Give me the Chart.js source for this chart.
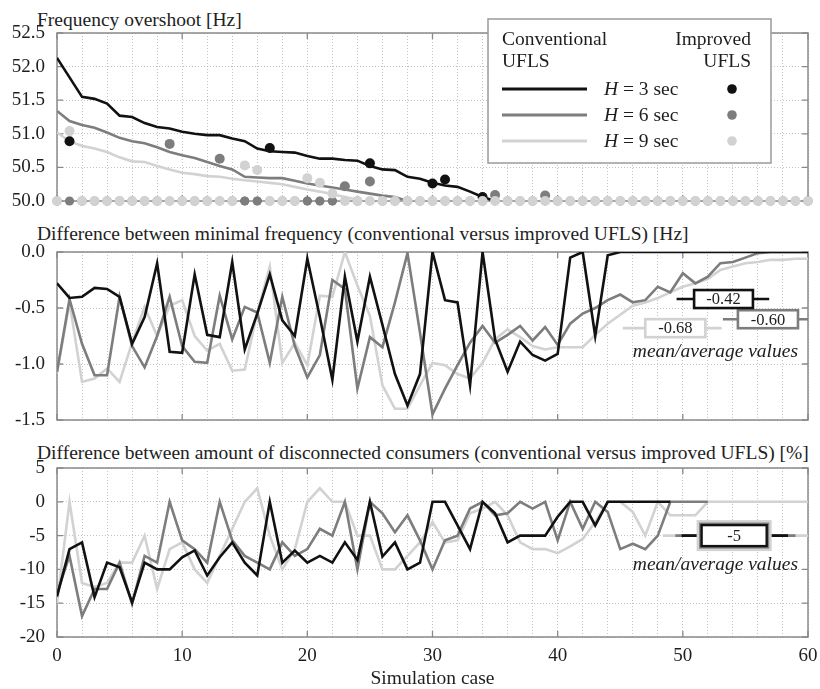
<!DOCTYPE html>
<html>
<head>
<meta charset="utf-8">
<script src="https://cdn.jsdelivr.net/npm/chart.js@4.4.1/dist/chart.umd.min.js"></script>
<style>
html,body{margin:0;padding:0;background:#fff;}
body{width:820px;height:689px;position:relative;overflow:hidden;}
canvas{position:absolute;left:0;}
.ttl{position:absolute;left:37px;font-family:"Liberation Serif","Times New Roman",serif;font-size:19.5px;line-height:1;color:#222;white-space:nowrap;}
</style>
</head>
<body>
<div class="ttl" style="top:9.7px">Frequency overshoot [Hz]</div>
<div class="ttl" style="top:223.7px">Difference between minimal frequency (conventional versus improved UFLS) [Hz]</div>
<div class="ttl" style="top:443px">Difference between amount of disconnected consumers (conventional versus improved UFLS) [%]</div>
<canvas id="c1" width="820" height="215" style="top:0"></canvas>
<canvas id="c2" width="820" height="215" style="top:215px"></canvas>
<canvas id="c3" width="820" height="259" style="top:430px"></canvas>
<script>
// ---------------- DATA ----------------
const simulationCases = [0,1,2,3,4,5,6,7,8,9,10,11,12,13,14,15,16,17,18,19,20,21,22,23,24,25,26,27,28,29,30,
  31,32,33,34,35,36,37,38,39,40,41,42,43,44,45,46,47,48,49,50,51,52,53,54,55,56,57,58,59,60];
const seriesNames = ['H = 3 sec', 'H = 6 sec', 'H = 9 sec'];

// Panel 1: frequency overshoot [Hz], conventional UFLS (lines)
const overshootConvH3 = [52.13,51.84,51.55,51.52,51.45,51.27,51.25,51.16,51.10,51.08,51.03,51.00,50.98,50.98,50.93,50.89,50.78,50.74,50.73,50.72,
  50.67,50.63,50.63,50.61,50.60,50.52,50.47,50.46,50.36,50.33,50.27,50.23,50.21,50.14,50.06,50.00];
const overshootConvH6 = [51.34,51.19,51.13,51.09,51.02,50.94,50.89,50.86,50.80,50.73,50.68,50.64,50.58,50.52,50.47,50.36,50.35,50.34,50.34,50.30,
  50.26,50.23,50.20,50.17,50.14,50.11,50.08,50.06,50.00];
const overshootConvH9 = [51.02,50.89,50.82,50.78,50.73,50.65,50.59,50.58,50.52,50.47,50.42,50.40,50.37,50.36,50.33,50.31,50.29,50.27,50.25,50.21,
  50.17,50.14,50.10,50.06,50.02];
// Panel 1: improved UFLS (dots)
const overshootImpH3 = [50,50.89,50,50,50,50,50,50,50,50,50,50,50,50,50,50,50,50.79,50,50,50,50,50,50,50,50.56,50,50,50,50,
  50.26,50.32,50,50,50.06,50,50,50,50,50,50,50,50,50,50,50,50,50,50,50,50,50,50,50,50,50,50,50,50,50,50];
const overshootImpH6 = [50,50,50,50,50,50,50,50,50,50.85,50,50,50,50.63,50,50,50,50,50,50,50,50,50,50.22,50,50.29,50,50,50,50,
  50,50,50,50,50,50.09,50,50,50,50.08,50,50,50,50,50,50,50,50,50,50,50,50,50,50,50,50,50,50,50,50,50];
const overshootImpH9 = [50,51.04,50,50,50,50,50,50,50,50,50,50,50,50,50,50.53,50.46,50,50,50,50.34,50.27,50.11,50,50,50,50,50,50,50,
  50,50,50,50,50,50,50,50,50,50,50,50,50,50,50,50,50,50,50,50,50,50,50,50,50,50,50,50,50,50,50];

// Panel 2: difference of minimal frequency [Hz]
const minFreqDiffH3 = [-0.28,-0.41,-0.40,-0.32,-0.33,-0.40,-0.82,-0.58,-0.10,-0.89,-0.90,-0.20,-0.74,-0.76,-0.09,-0.87,-0.55,-0.20,-0.61,-0.75,
  -0.06,-0.58,-1.14,-0.22,-0.80,-0.22,-0.65,-1.09,-1.37,-1.09,0.00,-0.43,-0.45,-1.19,0.00,-0.78,-1.07,-0.80,-0.92,-0.97,
  -0.91,-0.05,0.00,-0.75,-0.03,0,0,0,0,0,0,0,0,0,0,0,0,0,0,0,0];
const minFreqDiffH6 = [-1.07,-0.42,-0.82,-1.10,-1.10,-0.40,-0.84,-1.03,-0.75,-0.40,-0.84,-0.98,-0.99,-0.39,-0.78,-0.49,-0.54,-0.99,-0.40,-0.84,
  -1.12,-0.92,-0.25,-0.33,-1.22,-0.76,-0.85,-0.45,-0.01,-0.72,-1.45,-1.22,-1.01,-0.81,-0.66,-0.81,-0.74,-0.66,-0.79,-0.67,
  -0.83,-0.64,-0.55,-0.50,-0.43,-0.38,-0.45,-0.43,-0.31,-0.36,-0.19,-0.28,-0.22,-0.10,-0.09,-0.05,-0.01,0,0,0,0];
const minFreqDiffH9 = [-1.08,-0.45,-1.16,-1.13,-1.04,-1.16,-0.81,-0.49,-0.75,-0.48,-0.43,-0.75,-0.88,-0.82,-1.06,-1.05,-0.54,-0.13,-0.99,-0.81,
  -1.01,-0.39,-0.40,0.00,-0.30,-0.57,-1.19,-1.40,-1.40,-1.19,-0.99,-1.01,-1.09,-1.13,-0.99,-0.78,-0.69,-0.76,-0.84,-0.87,
  -0.85,-0.85,-0.85,-0.74,-0.64,-0.56,-0.48,-0.45,-0.41,-0.36,-0.31,-0.28,-0.24,-0.16,-0.13,-0.10,-0.09,-0.07,-0.07,-0.06,-0.06];
const meanFreqDiff = [-0.42, -0.60, -0.68];
const meanFreqLabels = ['-0.42', '-0.60', '-0.68'];

// Panel 3: difference of disconnected consumers [%]
const consumersDiffH3 = [-14,-7,-6,-14.1,-9,-9.7,-14.9,-9,-10,-10,-8.2,-7.2,-10.9,-8.2,-6,-9,-10.9,0,-9,-7.2,
  -9,-8,-9,-6,-8.6,0,-8.1,-6,-10,-9,0,0,-3.5,-7,0,-1.7,-6,-5,-5,-5,
  -2.2,0,0,-3.5,0,0,0,0,0,0];
const consumersDiffH6 = [-13.5,-8,-16.9,-12.9,-12.9,-9,-15.1,-8,-9,0,-5.7,-7,-9,0,-5.7,-8,-9,-10,-6,-8,
  -7,-4,-5,0,-10,0,-1.7,-4.5,-2,-5.7,-10,-5.7,-5,-1,0,-2,-1.7,0,-1,0,
  -5.7,0,-4,0,-1.5,-7,-6.2,-7,-5,0,0,0,0];
const consumersDiffH9 = [-15,0,-12,-12.6,-12,-9,-9,-5,-12.9,-7,-6,-10,-12,-8,-4,0,2,-5,-10,-7,
  0,2,0,0,-5,-5,-10,-10,-8,-6,-3,-6,-5.7,-1.7,-1,0,-2,-6,-7,-7,
  -7.6,-6.6,-5.5,-3,0,0,-1.5,-5,0,-2,-2,-2,0,0,0,0,0,0,0,0,0];
const meanConsumerDiff = [-5, -5, -5];
const meanConsumerLabel = '-5';

const xTickLabels = [0,10,20,30,40,50,60];

// ---------------- STYLE ----------------
const FONT = '"Liberation Serif", "Times New Roman", serif';
const colors = ['#111111', '#7d7d7d', '#d2d2d2'];
const TXT = '#1e1e1e';
Chart.defaults.font.family = FONT;

const framePlugin = {
  id: 'frame',
  beforeDatasetsDraw(chart) {
    const {ctx, chartArea: a, scales: {x, y}} = chart;
    ctx.save();
    ctx.strokeStyle = '#8a8a8a';
    ctx.lineWidth = 1.5;
    ctx.strokeRect(a.left, a.top, a.right - a.left, a.bottom - a.top);
    ctx.lineWidth = 1.3;
    ctx.beginPath();
    x.ticks.forEach(t => {
      if (xTickLabels.includes(t.value)) {
        const px = x.getPixelForValue(t.value);
        ctx.moveTo(px, a.top); ctx.lineTo(px, a.top + 6);
        ctx.moveTo(px, a.bottom); ctx.lineTo(px, a.bottom - 6);
      }
    });
    y.ticks.forEach(t => {
      const py = y.getPixelForValue(t.value);
      ctx.moveTo(a.left, py); ctx.lineTo(a.left + 6, py);
      ctx.moveTo(a.right, py); ctx.lineTo(a.right - 6, py);
    });
    ctx.stroke();
    ctx.restore();
  }
};

function xScale(showLabels) {
  return {
    type: 'linear', min: 0, max: 60,
    ticks: {
      stepSize: 2, autoSkip: false, maxRotation: 0, display: showLabels,
      padding: 8, color: TXT, font: {size: 19, family: FONT},
      callback: v => xTickLabels.includes(v) ? String(v) : ''
    },
    grid: {color: '#c2c2c2', lineWidth: 1, drawTicks: false},
    border: {display: false, dash: [1, 2]},
    title: showLabels ? {display: true, text: 'Simulation case', color: TXT, font: {size: 19.5, family: FONT, lineHeight: 1.05}, padding: {top: 0, bottom: 0}} : {display: false},
    afterFit: s => { s.height = showLabels ? 52 : 0; s.paddingLeft = 0; s.paddingRight = 0; }
  };
}
function yScale(min, max, step, digits) {
  return {
    min, max,
    ticks: {stepSize: step, padding: 12, color: TXT, font: {size: 19, family: FONT},
      callback: v => Number(v).toFixed(digits)},
    grid: {color: '#c2c2c2', lineWidth: 1, drawTicks: false},
    border: {display: false, dash: [1, 2]},
    afterFit: s => { s.width = 57; s.paddingTop = 0; s.paddingBottom = 0; }
  };
}
const baseOpts = {responsive: false, animation: false, events: [],
  plugins: {legend: {display: false}, tooltip: {enabled: false}}};

function lineDS(data, i, order) {
  return {data, borderColor: colors[i], borderWidth: 2.6, pointRadius: 0, tension: 0, fill: false, order};
}
// dots lying under the lighter ones on the 50.0 Hz base line are kept a touch smaller so their edges do not bleed through
function dotDS(data, i, order, baseRadius) {
  return {data, showLine: false, pointRadius: c => (c.raw === 50 ? baseRadius : 5), pointBackgroundColor: colors[i],
    pointBorderWidth: 0, borderColor: colors[i], clip: false, order};
}

// ---------- legend for panel 1 ----------
const legendPlugin = {
  id: 'ufLegend',
  afterDraw(chart) {
    const ctx = chart.ctx;
    ctx.save();
    ctx.fillStyle = '#ffffff';
    ctx.fillRect(488, 19, 283, 144);
    ctx.strokeStyle = '#9a9a9a'; ctx.lineWidth = 1.5;
    ctx.strokeRect(488, 19, 283, 144);
    ctx.fillStyle = TXT;
    ctx.font = '19.5px ' + FONT;
    ctx.textBaseline = 'alphabetic';
    ctx.textAlign = 'left';
    ctx.fillText('Conventional', 502, 45);
    ctx.fillText('UFLS', 502, 67);
    ctx.textAlign = 'right';
    ctx.fillText('Improved', 751, 45);
    ctx.fillText('UFLS', 751, 67);
    const rows = [89, 115, 141];
    rows.forEach((ry, i) => {
      ctx.strokeStyle = colors[i]; ctx.lineWidth = 3;
      ctx.beginPath(); ctx.moveTo(502, ry); ctx.lineTo(587, ry); ctx.stroke();
      ctx.fillStyle = TXT; ctx.textAlign = 'left'; ctx.textBaseline = 'middle';
      ctx.font = 'italic 19.5px ' + FONT;
      ctx.fillText('H', 604, ry + 1);
      const hw = ctx.measureText('H').width;
      ctx.font = '19.5px ' + FONT;
      ctx.fillText(seriesNames[i].slice(1), 604 + hw, ry + 1);
      ctx.fillStyle = colors[i];
      ctx.beginPath(); ctx.arc(732, ry, 4.8, 0, Math.PI * 2); ctx.fill();
    });
    ctx.restore();
  }
};

// ---------- mean boxes ----------
function box(ctx, x1, y1, x2, y2, stroke, lw) {
  ctx.fillStyle = '#fff';
  ctx.fillRect(x1, y1, x2 - x1, y2 - y1);
  ctx.strokeStyle = stroke; ctx.lineWidth = lw;
  ctx.strokeRect(x1, y1, x2 - x1, y2 - y1);
}
const meanPlugin2 = {
  id: 'mean2',
  afterDatasetsDraw(chart) {
    const {ctx, scales: {x, y}} = chart;
    // [line from, line to, box from, box to] in simulation-case units
    const geo = [[49.5, 56.9, 50.9, 55.6], [53.2, 60.0, 54.4, 59.2], [45.2, 53.1, 47.0, 51.8]];
    ctx.save();
    [2, 1, 0].forEach(i => {
      const py = y.getPixelForValue(meanFreqDiff[i]);
      const g = geo[i];
      ctx.strokeStyle = colors[i]; ctx.lineWidth = 2.6;
      ctx.beginPath(); ctx.moveTo(x.getPixelForValue(g[0]), py); ctx.lineTo(x.getPixelForValue(g[1]), py); ctx.stroke();
      const bx1 = x.getPixelForValue(g[2]), bx2 = x.getPixelForValue(g[3]);
      box(ctx, bx1, py - 9, bx2, py + 9, colors[i], 2.6);
      ctx.fillStyle = TXT; ctx.font = '16.5px ' + FONT; ctx.textAlign = 'center'; ctx.textBaseline = 'middle';
      ctx.fillText(meanFreqLabels[i], (bx1 + bx2) / 2, py + 1);
    });
    ctx.font = 'italic 19.5px ' + FONT; ctx.textAlign = 'right'; ctx.textBaseline = 'alphabetic'; ctx.fillStyle = TXT;
    ctx.fillText('mean/average values', 798, 357 - 215);
    ctx.restore();
  }
};
const meanPlugin3 = {
  id: 'mean3',
  afterDatasetsDraw(chart) {
    const {ctx, scales: {x, y}} = chart;
    const py = y.getPixelForValue(meanConsumerDiff[0]);
    ctx.save();
    ctx.strokeStyle = colors[2]; ctx.lineWidth = 2.6;
    ctx.beginPath(); ctx.moveTo(x.getPixelForValue(48.4), py); ctx.lineTo(x.getPixelForValue(60), py); ctx.stroke();
    ctx.strokeStyle = colors[1];
    ctx.beginPath(); ctx.moveTo(x.getPixelForValue(49.4), py); ctx.lineTo(x.getPixelForValue(59.0), py); ctx.stroke();
    ctx.strokeStyle = colors[0];
    ctx.beginPath(); ctx.moveTo(x.getPixelForValue(49.9), py); ctx.lineTo(x.getPixelForValue(58.4), py); ctx.stroke();
    const bx1 = x.getPixelForValue(51.5), bx2 = x.getPixelForValue(56.7);
    box(ctx, bx1 - 3.5, py - 14, bx2 + 3.5, py + 14, colors[2], 3);
    box(ctx, bx1 - 1.5, py - 12, bx2 + 1.5, py + 12, colors[1], 2);
    box(ctx, bx1, py - 10.5, bx2, py + 10.5, colors[0], 2.4);
    ctx.fillStyle = TXT; ctx.font = '16.5px ' + FONT; ctx.textAlign = 'center'; ctx.textBaseline = 'middle';
    ctx.fillText(meanConsumerLabel, (bx1 + bx2) / 2, py + 1);
    ctx.font = 'italic 19.5px ' + FONT; ctx.textAlign = 'right'; ctx.textBaseline = 'alphabetic';
    ctx.fillText('mean/average values', 798, 570 - 430);
    ctx.restore();
  }
};

// ---------------- CHARTS ----------------
new Chart(document.getElementById('c1'), {
  type: 'line',
  data: {labels: simulationCases, datasets: [
    dotDS(overshootImpH9, 2, 1, 5), dotDS(overshootImpH6, 1, 2, 4.6), dotDS(overshootImpH3, 0, 3, 4.2),
    lineDS(overshootConvH3, 0, 4), lineDS(overshootConvH6, 1, 5), lineDS(overshootConvH9, 2, 6)
  ]},
  options: Object.assign({}, baseOpts, {
    layout: {padding: {top: 33, bottom: 14, left: 0, right: 12}},
    scales: {x: xScale(false), y: yScale(50, 52.5, 0.5, 1)}
  }),
  plugins: [framePlugin, legendPlugin]
});

new Chart(document.getElementById('c2'), {
  type: 'line',
  data: {labels: simulationCases, datasets: [
    lineDS(minFreqDiffH3, 0, 1), lineDS(minFreqDiffH6, 1, 2), lineDS(minFreqDiffH9, 2, 3)
  ]},
  options: Object.assign({}, baseOpts, {
    layout: {padding: {top: 37, bottom: 10, left: 0, right: 12}},
    scales: {x: xScale(false), y: yScale(-1.5, 0, 0.5, 1)}
  }),
  plugins: [framePlugin, meanPlugin2]
});

new Chart(document.getElementById('c3'), {
  type: 'line',
  data: {labels: simulationCases, datasets: [
    lineDS(consumersDiffH3, 0, 1), lineDS(consumersDiffH6, 1, 2), lineDS(consumersDiffH9, 2, 3)
  ]},
  options: Object.assign({}, baseOpts, {
    layout: {padding: {top: 38, bottom: 0, left: 0, right: 12}},
    scales: {x: xScale(true), y: yScale(-20, 5, 5, 0)}
  }),
  plugins: [framePlugin, meanPlugin3]
});
</script>
</body>
</html>
